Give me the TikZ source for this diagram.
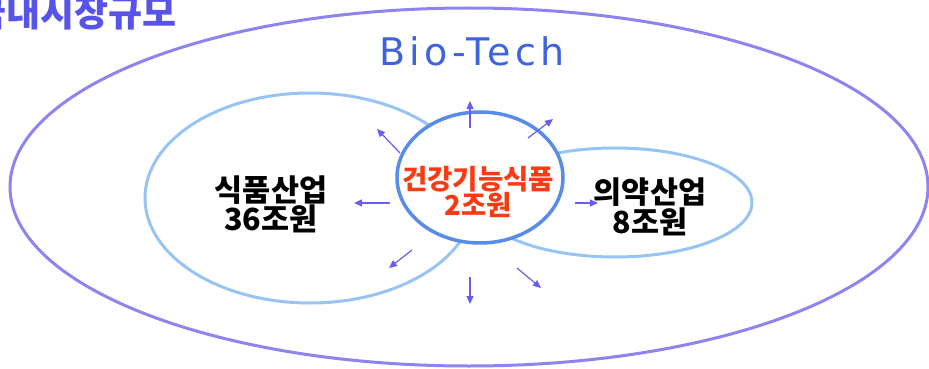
\documentclass[tikz,border=0pt]{standalone}
\usepackage{fontspec}
\usetikzlibrary{arrows.meta,shapes.geometric}
\newfontfamily\kr{Noto Sans CJK KR}
\newfontfamily\bt{DejaVu Sans}[LetterSpace=11]
\definecolor{outerc}{RGB}{142,132,240}
\definecolor{lightc}{RGB}{152,196,244}
\definecolor{circc}{RGB}{88,140,232}
\definecolor{arrc}{RGB}{104,94,235}
\definecolor{titlec}{RGB}{88,84,232}
\definecolor{biotc}{RGB}{62,98,224}
\definecolor{redc}{RGB}{250,58,18}
\tikzset{
  outerline/.style={draw=outerc, line width=3pt},
  setline/.style={draw=lightc, line width=3pt},
  coreline/.style={draw=circc, line width=3.5pt, fill=white},
  spread/.style={draw=arrc, line width=1.2pt, -{Triangle[length=8pt,width=7pt]}},
  ktext/.style={font=\kr\bfseries\fontsize{30.5}{28}\selectfont, text=black, align=center, inner sep=0pt},
  rtext/.style={font=\kr\bfseries\fontsize{27.5}{26.5}\selectfont, text=redc, align=center, inner sep=0pt}
}
\begin{document}
\begin{tikzpicture}[x=1pt,y=-1pt]
\useasboundingbox (0,0) rectangle (929,369);
% sets
\node[ellipse, outerline, minimum width=918pt, minimum height=358pt, inner sep=0pt] (biotech) at (469,187) {};
\node[ellipse, setline, minimum width=330pt, minimum height=210pt, inner sep=0pt] (food) at (310,198) {};
\node[ellipse, setline, minimum width=274pt, minimum height=109pt, inner sep=0pt] (pharma) at (615,202.5) {};
\node[ellipse, coreline, minimum width=166pt, minimum height=131pt, inner sep=0pt] (health) at (480,177.5) {};
% texts
\node[anchor=base east, inner sep=0pt, font=\kr\bfseries\fontsize{37}{37}\selectfont, text=titlec] (title) at (177,27) {국내시장규모};
\node[inner sep=0pt, font=\bt\fontsize{38}{38}\selectfont, text=biotc] (biolabel) at (472,51) {Bio-Tech};
\node[ktext] (foodlabel) at (271,204.5) {식품산업\\36조원};
\node[ktext] (pharmalabel) at (650,206.5) {의약산업\\8조원};
\node[rtext] (healthlabel) at (478,192) {건강기능식품\\2조원};
% arrow coordinates
\coordinate (s1) at (470,128);  \coordinate (e1) at (470,101);
\coordinate (s2) at (528,138);  \coordinate (e2) at (553,119);
\coordinate (s3) at (400,153);  \coordinate (e3) at (377,129);
\coordinate (s4) at (390,203);  \coordinate (e4) at (354,203);
\coordinate (s5) at (575,203);  \coordinate (e5) at (598,203);
\coordinate (s6) at (412,250);  \coordinate (e6) at (389,268);
\coordinate (s7) at (470,277);  \coordinate (e7) at (470,304);
\coordinate (s8) at (517,268);  \coordinate (e8) at (541,288);
\foreach \i in {1,...,8} { \draw[spread] (s\i) -- (e\i); }
\end{tikzpicture}
\end{document}
